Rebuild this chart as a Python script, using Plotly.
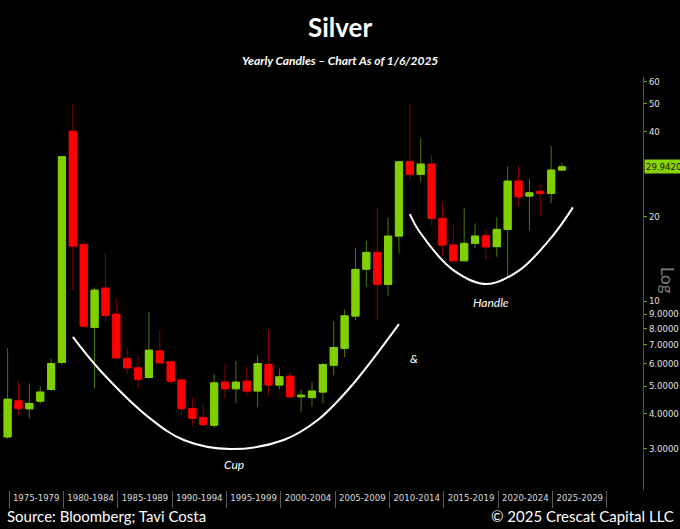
import math
import plotly.graph_objects as go

# yearly silver candles (USD/oz)
years = list(range(1974, 2026))
open_ = [3.30, 4.43, 4.15, 4.42, 4.86, 6.06,
         40.0, 15.89, 8.07, 11.12, 8.99, 6.26, 5.80, 5.36, 6.66, 6.09,
         5.25, 4.16, 3.87, 3.63, 5.16, 4.89, 5.20, 4.80, 5.96, 5.04,
         5.42, 4.58, 4.55, 4.76, 5.92, 6.80, 8.85, 12.98, 14.88, 11.46,
         17.0, 31.19, 28.14, 30.6, 19.65, 15.8, 13.9, 16.02, 17.04, 15.6,
         17.96, 26.64, 23.57, 24.49, 24.09, 29.14]
high = [6.8, 5.20, 5.11, 5.0, 6.26, 32.6,
        49.9, 16.36, 11.18, 14.76, 10.22, 6.80, 6.34, 9.17, 7.89, 6.12,
        5.27, 4.55, 4.31, 5.51, 5.98, 6.14, 5.85, 6.43, 7.93, 5.77,
        5.61, 4.86, 5.17, 6.04, 8.49, 9.35, 15.38, 16.36, 21.49, 19.74,
        31.3, 50.2, 37.76, 32.95, 22.5, 18.6, 21.32, 18.86, 17.85, 19.8,
        30.11, 30.3, 27.23, 26.15, 35.44, 30.9]
low = [3.25, 3.94, 3.84, 4.34, 4.80, 5.95,
       10.94, 8.0, 4.90, 8.45, 6.25, 5.50, 4.88, 5.32, 6.0, 5.08,
       3.96, 3.63, 3.61, 3.55, 4.52, 4.34, 4.60, 4.20, 4.64, 4.86,
       4.55, 4.05, 4.22, 4.34, 5.46, 6.34, 8.57, 11.24, 8.56, 10.44,
       14.76, 26.7, 26.49, 18.6, 14.56, 13.85, 13.85, 15.38, 14.05, 14.36,
       12.2, 21.73, 17.76, 20.0, 22.21, 29.0]
close = [4.49, 4.16, 4.34, 4.76, 6.01, 32.5,
         15.67, 8.15, 10.94, 8.90, 6.29, 5.80, 5.28, 6.70, 6.04, 5.20,
         4.16, 3.84, 3.65, 5.13, 4.89, 5.16, 4.80, 6.01, 5.04, 5.39,
         4.58, 4.64, 4.80, 5.96, 6.85, 8.87, 12.95, 14.88, 11.46, 17.0,
         31.19, 28.14, 30.6, 19.65, 15.8, 13.9, 16.02, 17.0, 15.58, 17.96,
         26.64, 23.44, 24.21, 24.09, 29.14, 29.942]
last_price = 29.942

period_start = [1975, 1980, 1985, 1990, 1995, 2000, 2005, 2010, 2015, 2020, 2025]
period_labels = ['1975-1979', '1980-1984', '1985-1989', '1990-1994', '1995-1999',
                 '2000-2004', '2005-2009', '2010-2014', '2015-2019', '2020-2024',
                 '2025-2029']

price_ticks = [3, 4, 5, 6, 7, 8, 9, 10, 20, 40, 50, 60]
price_labels = ['3.0000', '4.0000', '5.0000', '6.0000', '7.0000', '8.0000',
                '9.0000', '10', '20', '40', '50', '60']

# hand-drawn cup & handle arcs (year, price)
cup_x = [1980.0, 1982.5, 1987.1, 1990.2, 1994.5, 1999.4, 2002.5, 2005.5, 2010.0]
cup_y = [7.47, 5.69, 3.84, 3.22, 2.99, 3.22, 3.78, 4.94, 8.29]
handle_x = [2011.0, 2011.9, 2015.0, 2018.1, 2021.1, 2024.2, 2026.0]
handle_y = [20.35, 17.61, 12.88, 11.49, 12.88, 17.14, 21.49]

GREEN = '#80d000'
RED = '#ff0000'
LABEL_FONT = 'DejaVu Sans Condensed, sans-serif'
TEXT_FONT = 'Lato, Open Sans, sans-serif'

# plot area in pixels: x 0..643, y 77..490
def px(x):
    return x / 643.0

def py(y):
    return (490.0 - y) / 413.0

fig = go.Figure()

# wicks (dim), then bodies on top
fig.add_trace(go.Candlestick(
    x=years, open=open_, high=high, low=low, close=close,
    increasing=dict(line=dict(color='#4d7a00', width=1), fillcolor='#4d7a00'),
    decreasing=dict(line=dict(color='#8c0000', width=1), fillcolor='#8c0000'),
    whiskerwidth=0, showlegend=False, hoverinfo='skip'))
fig.add_trace(go.Candlestick(
    x=years, open=open_, close=close,
    high=[max(o, c) for o, c in zip(open_, close)],
    low=[min(o, c) for o, c in zip(open_, close)],
    increasing=dict(line=dict(color=GREEN, width=1), fillcolor=GREEN),
    decreasing=dict(line=dict(color=RED, width=1), fillcolor=RED),
    whiskerwidth=0, showlegend=False))

for ax_, ay_ in [(cup_x, cup_y), (handle_x, handle_y)]:
    fig.add_trace(go.Scatter(x=ax_, y=ay_, mode='lines',
                             line=dict(color='white', width=2, shape='spline', smoothing=1.0),
                             showlegend=False, hoverinfo='skip'))

annotations = [
    dict(text='<b>Silver</b>', x=px(340), y=py(27), font=dict(size=26, color='white', family=TEXT_FONT)),
    dict(text='<b><i>Yearly Candles – Chart As of 1/6/2025</i></b>', x=px(340), y=py(60),
         font=dict(size=12, color='white', family=TEXT_FONT)),
    dict(text='Source: Bloomberg; Tavi Costa', x=px(5), y=py(516), xanchor='left',
         font=dict(size=15, color='white', family=TEXT_FONT)),
    dict(text='© 2025 Crescat Capital LLC', x=px(676), y=py(516), xanchor='right',
         font=dict(size=15, color='white', family=TEXT_FONT)),
    dict(text='Log', x=px(668), y=py(280), textangle=90,
         font=dict(size=17, color='#7a7a7a', family=TEXT_FONT)),
]
for a in annotations:
    a.update(xref='paper', yref='paper', showarrow=False)
    a.setdefault('xanchor', 'center')
    a['yanchor'] = 'middle'

for txt, xv, yv in [('Cup', 1994.8, 2.64), ('&', 2011.4, 6.28), ('Handle', 2018.5, 9.92)]:
    annotations.append(dict(text='<i>' + txt + '</i>', x=xv, y=math.log10(yv), xref='x', yref='y',
                            showarrow=False, font=dict(size=12, color='white', family=TEXT_FONT)))

annotations.append(dict(text=f'{last_price:.4f}', x=1, xref='paper', xanchor='left', xshift=1,
                        y=math.log10(last_price), yref='y', showarrow=False,
                        bgcolor='#8ad400', borderpad=1,
                        font=dict(size=9.5, color='#0c1a00', family=LABEL_FONT)))

fig.update_layout(
    width=680, height=529,
    margin=dict(l=0, r=37, t=77, b=39),
    paper_bgcolor='black', plot_bgcolor='black',
    boxgap=0.06,
    annotations=annotations,
    xaxis=dict(
        range=[1973.3, 2032.45],
        rangeslider=dict(visible=False),
        showgrid=False, zeroline=False, showline=False,
        tickmode='array',
        tickvals=[s + 1.63 for s in period_start],
        ticktext=period_labels,
        ticks='', tickfont=dict(size=9.5, color='#dcdcdc', family=LABEL_FONT),
        minor=dict(tickmode='array', tickvals=[s - 0.87 for s in period_start] + [2029.13],
                   ticks='outside', ticklen=17, tickcolor='#5a5a5a', tickwidth=1),
    ),
    yaxis=dict(
        type='log', side='right',
        range=[math.log10(2.14), math.log10(62.3)],
        showgrid=False, zeroline=False,
        showline=True, linecolor='#4a6c10', linewidth=1,
        tickmode='array', tickvals=price_ticks, ticktext=price_labels,
        ticks='outside', ticklen=3, tickcolor='#78b000',
        ticklabelstandoff=0,
        tickfont=dict(size=9.5, color='#e0e0e0', family=LABEL_FONT),
        automargin=False,
    ),
)

# drop the page's default body margin so the 680x529 figure fills the window
fig.write_html('out.html', config={'displayModeBar': False},
               post_script="document.body.style.margin='0';document.body.style.background='black';")
